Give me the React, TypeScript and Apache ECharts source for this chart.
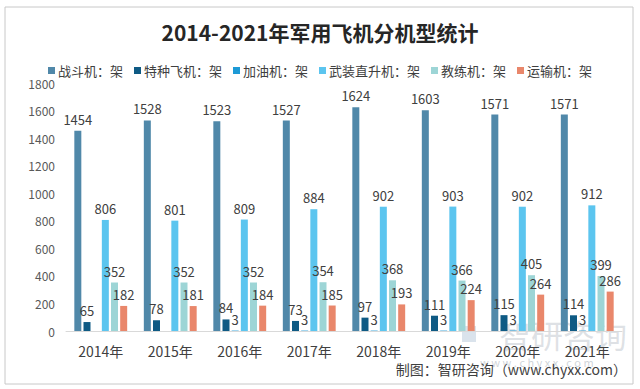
import React, { useEffect, useRef } from "react";
import * as echarts from "echarts";

const years = ["2014年", "2015年", "2016年", "2017年", "2018年", "2019年", "2020年", "2021年"];
const seriesNames = ["战斗机：架", "特种飞机：架", "加油机：架", "武装直升机：架", "教练机：架", "运输机：架"];
const fighter = [1454, 1528, 1523, 1527, 1624, 1603, 1571, 1571];
const special = [65, 78, 84, 73, 97, 111, 115, 114];
const tanker = [null, null, 3, 3, 3, 3, 3, 3];
const helicopter = [806, 801, 809, 884, 902, 903, 902, 912];
const trainer = [352, 352, 352, 354, 368, 366, 405, 399];
const transport = [182, 181, 184, 185, 193, 224, 264, 286];
const colors = ["#5088a9", "#0e5a84", "#1d9ad6", "#5cc5ef", "#9dd5d6", "#e9876b"];

export default function App() {
  const ref = useRef<HTMLDivElement>(null);
  useEffect(() => {
    if (!ref.current) return;
    const chart = echarts.init(ref.current, null, { renderer: "svg" });
    const data = [fighter, special, tanker, helicopter, trainer, transport];
    const cjk = "'Microsoft YaHei', 'Noto Sans CJK SC', sans-serif";
    chart.setOption({
      animation: false,
      backgroundColor: "#ffffff",
      title: {
        text: "2014-2021年军用飞机分机型统计",
        left: "center",
        top: 16,
        textStyle: { fontSize: 21, fontWeight: "bold", color: "#262626", fontFamily: cjk },
      },
      legend: {
        top: 59,
        left: "center",
        itemWidth: 7,
        itemHeight: 7,
        itemGap: 11,
        icon: "rect",
        textStyle: { fontSize: 13, color: "#404040", fontFamily: cjk, padding: [0, 0, 0, -2] },
        data: seriesNames,
      },
      graphic: [
        {
          type: "rect",
          shape: { x: 5, y: 7, width: 628, height: 377 },
          style: { fill: "none", stroke: "#c8c8c8", lineWidth: 1 },
          silent: true,
        },
        {
          type: "text",
          right: 13,
          top: 318,
          style: { text: "智研咨询", fontSize: 32, fill: "rgba(160,170,180,0.35)", fontFamily: cjk },
          silent: true,
        },
        {
          type: "rect",
          shape: { x: 462, y: 326, width: 14, height: 16 },
          style: { fill: "rgba(150,175,200,0.35)" },
          silent: true,
        },
        {
          type: "text",
          left: 480,
          top: 356,
          style: { text: "w w w . c h y x x . c o m", fontSize: 11, fill: "rgba(160,170,180,0.5)", fontFamily: cjk },
          silent: true,
        },
        {
          type: "text",
          right: 13,
          top: 362,
          style: { text: "制图：智研咨询（www.chyxx.com）", fontSize: 14, fill: "#404040", fontFamily: cjk },
          silent: true,
        },
      ],
      grid: { left: 66, right: 18, top: 83, bottom: 58, containLabel: false },
      xAxis: {
        type: "category",
        data: years,
        axisLine: { lineStyle: { color: "#d9d9d9" } },
        axisTick: { show: false },
        axisLabel: { fontSize: 14, color: "#404040", margin: 13, fontFamily: cjk },
      },
      yAxis: {
        type: "value",
        min: 0,
        max: 1800,
        interval: 200,
        axisLine: { show: false },
        axisTick: { show: false },
        splitLine: { show: false },
        axisLabel: {
          fontSize: 12,
          color: "#595959",
          margin: 11,
          fontFamily: cjk,
          formatter: (v: number) => String(v),
        },
      },
      series: seriesNames.map((name, i) => ({
        name,
        type: "bar",
        data: data[i],
        barWidth: 7,
        barGap: "31%",
        itemStyle: { color: colors[i] },
        label: {
          show: true,
          position: "top",
          distance: 5,
          fontSize: 13,
          color: "#404040",
          fontFamily: cjk,
        },
      })),
    });
    return () => chart.dispose();
  }, []);
  return <div ref={ref} style={{ position: "fixed", left: 0, top: 0, width: 640, height: 389 }} />;
}
